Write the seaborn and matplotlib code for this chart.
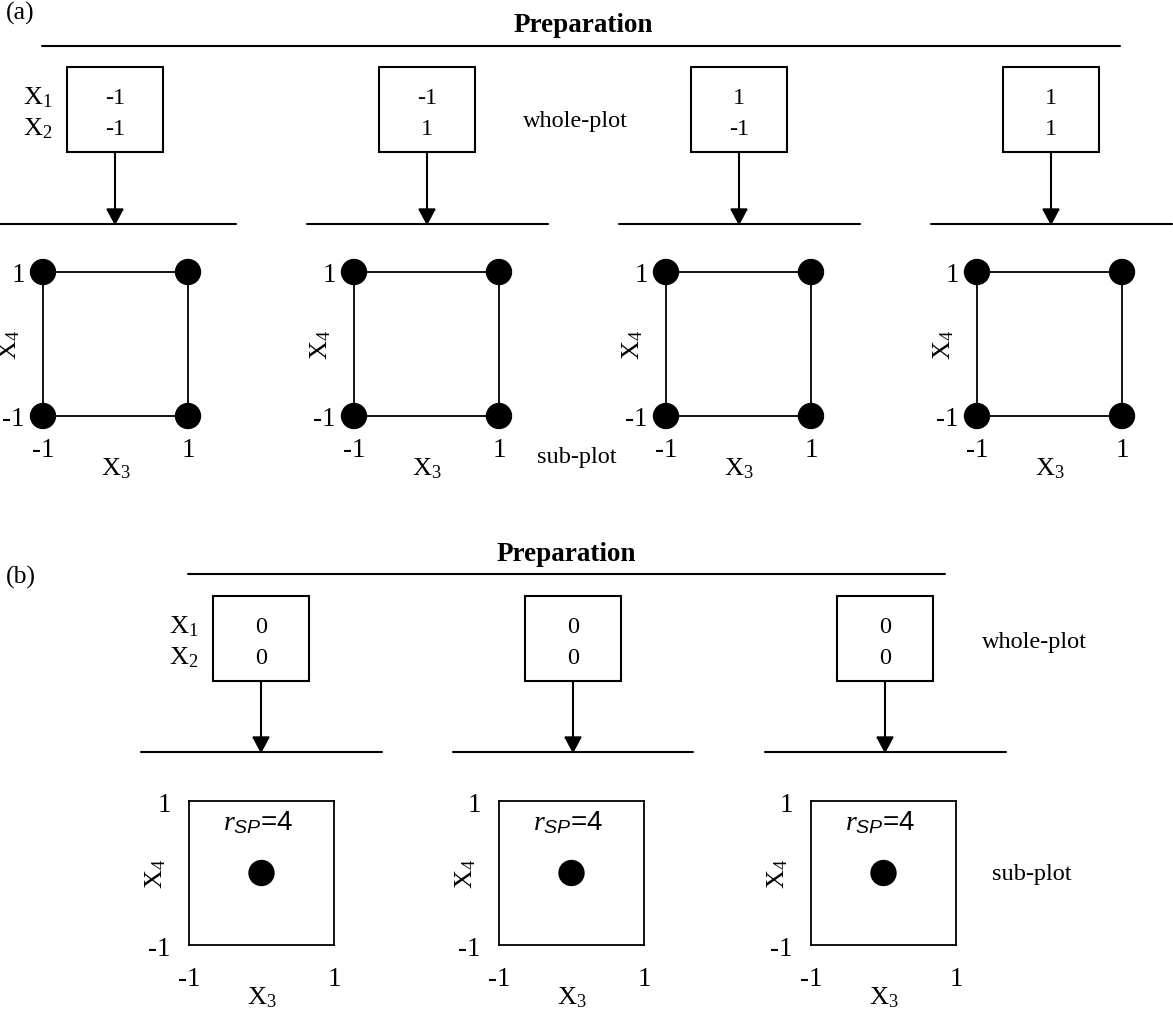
import numpy as np
import pandas as pd
import matplotlib
matplotlib.use("Agg")
import matplotlib.pyplot as plt
import seaborn as sns
from matplotlib.patches import Rectangle, Polygon

# ---------------- data ----------------
# (a) whole-plot factor settings (one box per whole plot)
a_x1 = [-1, -1, 1, 1]
a_x2 = [-1, 1, -1, 1]
# (a) sub-plot design points (2^2 factorial in X3, X4)
a_x3 = [-1, 1, -1, 1]
a_x4 = [-1, -1, 1, 1]
# (b) whole-plot centre points
b_x1 = [0, 0, 0]
b_x2 = [0, 0, 0]
# (b) sub-plot centre point with replicates
b_x3 = [0]
b_x4 = [0]
b_rsp = [4, 4, 4]
tick_vals = [-1, 1]
tick_labels = ["-1", "1"]

# ---------------- layout (pixels) ----------------
W, H = 1173, 1012
SQ_W, SQ_H = 145, 144
A_SQ_LEFT = [43, 354, 666, 977]
A_SQ_TOP = 273
B_SQ_LEFT = [189, 499, 811]
B_SQ_TOP = 802
BOX_W, BOX_H = 96, 85
A_BOX_CX = [115, 427, 739, 1051]
A_BOX_TOP = 68
B_BOX_CX = [261, 573, 885]
B_BOX_TOP = 597
A_LINES = [(0, 236), (307, 548), (619, 860), (931, 1172)]
A_LINE_Y = 225
B_LINES = [(141, 382), (453, 693), (765, 1006)]
B_LINE_Y = 753

FS_TEXT = 17.5
FS_TITLE = 19.5
FS_BOXVAL = 17.5
FS_TICK = 19.5
FS_LAB = 19
FS_RSP = 20
LW = 1.5

sns.set_theme(style="white")
plt.rcParams["font.family"] = ["Liberation Serif", "DejaVu Serif"]
plt.rcParams["mathtext.fontset"] = "custom"
plt.rcParams["mathtext.rm"] = "Liberation Serif"
plt.rcParams["mathtext.it"] = "Liberation Serif:italic"
plt.rcParams["mathtext.sf"] = "Liberation Sans:italic"
plt.rcParams["mathtext.bf"] = "Liberation Serif:bold"
for k in ["text.color", "axes.labelcolor", "xtick.color", "ytick.color", "axes.edgecolor"]:
    plt.rcParams[k] = "black"

fig = plt.figure(figsize=(W / 100, H / 100), dpi=100)
fig.patch.set_facecolor("white")
canvas = fig.add_axes([0, 0, 1, 1])
canvas.set_xlim(0, W)
canvas.set_ylim(H, 0)
canvas.axis("off")


def fmt(v):
    return str(int(v))


def draw_box(cx, top, v1, v2):
    canvas.add_patch(Rectangle((cx - BOX_W / 2, top), BOX_W, BOX_H, fill=False,
                               edgecolor="black", lw=LW))
    canvas.text(cx, top + 36, fmt(v1), ha="center", va="baseline", fontsize=FS_BOXVAL)
    canvas.text(cx, top + 67, fmt(v2), ha="center", va="baseline", fontsize=FS_BOXVAL)


def draw_arrow(cx, y0, y1):
    canvas.plot([cx, cx], [y0, y1 - 14], color="black", lw=LW)
    canvas.add_patch(Polygon([[cx - 8, y1 - 15], [cx + 8, y1 - 15], [cx, y1]],
                             closed=True, color="black"))


def square_axes(left, top):
    ax = fig.add_axes([left / W, 1 - (top + SQ_H) / H, SQ_W / W, SQ_H / H])
    ax.set_facecolor("none")
    return ax


def style_square(ax):
    ax.set_xlim(-1, 1)
    ax.set_ylim(-1, 1)
    ax.set_xticks(tick_vals)
    ax.set_xticklabels(tick_labels)
    ax.set_yticks(tick_vals)
    ax.set_yticklabels(tick_labels)
    ax.tick_params(length=0, labelsize=FS_TICK, colors="black")
    ax.tick_params(axis="x", pad=15)
    ax.tick_params(axis="y", pad=13)
    ax.grid(False)
    for s in ax.spines.values():
        s.set_visible(True)
        s.set_color("black")
        s.set_linewidth(1.3)
    ax.set_xlabel(r"$\mathrm{X}_{3}$", fontsize=FS_LAB, color="black")
    ax.xaxis.set_label_coords(0.5, -52 / SQ_H)
    ax.xaxis.label.set_va("center")
    ax.set_ylabel(r"$\mathrm{X}_{4}$", fontsize=FS_LAB, color="black")
    ax.yaxis.set_label_coords(-33 / SQ_W, 0.5)
    ax.yaxis.label.set_va("center")
    ax.yaxis.label.set_ha("center")


# ================= (a) =================
canvas.text(6, 20, "(a)", ha="left", va="baseline", fontsize=FS_TITLE - 1)
canvas.text(583, 32, "Preparation", ha="center", va="baseline", fontsize=FS_TITLE,
            fontweight="bold")
canvas.plot([42, 1120], [47, 47], color="black", lw=LW)
canvas.text(38, A_BOX_TOP + 36, r"$\mathrm{X}_{1}$", ha="center", va="baseline", fontsize=FS_LAB)
canvas.text(38, A_BOX_TOP + 67, r"$\mathrm{X}_{2}$", ha="center", va="baseline", fontsize=FS_LAB)
canvas.text(523, 127, "whole-plot", ha="left", va="baseline", fontsize=FS_TEXT)
canvas.text(537, 463, "sub-plot", ha="left", va="baseline", fontsize=FS_TEXT)

df_a = pd.DataFrame({"X3": a_x3, "X4": a_x4})
for i, cx in enumerate(A_BOX_CX):
    draw_box(cx, A_BOX_TOP, a_x1[i], a_x2[i])
    draw_arrow(cx, A_BOX_TOP + BOX_H, A_LINE_Y)
    x0, x1 = A_LINES[i]
    canvas.plot([x0, x1], [A_LINE_Y, A_LINE_Y], color="black", lw=LW)
    ax = square_axes(A_SQ_LEFT[i], A_SQ_TOP)
    sns.scatterplot(data=df_a, x="X3", y="X4", ax=ax, color="black", s=360,
                    edgecolor="none", clip_on=False, legend=False, zorder=5)
    style_square(ax)

# ================= (b) =================
canvas.text(6, 584, "(b)", ha="left", va="baseline", fontsize=FS_TITLE - 1)
canvas.text(566, 561, "Preparation", ha="center", va="baseline", fontsize=FS_TITLE,
            fontweight="bold")
canvas.plot([188, 945], [575, 575], color="black", lw=LW)
canvas.text(184, B_BOX_TOP + 36, r"$\mathrm{X}_{1}$", ha="center", va="baseline", fontsize=FS_LAB)
canvas.text(184, B_BOX_TOP + 67, r"$\mathrm{X}_{2}$", ha="center", va="baseline", fontsize=FS_LAB)
canvas.text(982, 648, "whole-plot", ha="left", va="baseline", fontsize=FS_TEXT)
canvas.text(992, 880, "sub-plot", ha="left", va="baseline", fontsize=FS_TEXT)

df_b = pd.DataFrame({"X3": b_x3, "X4": b_x4})
for i, cx in enumerate(B_BOX_CX):
    draw_box(cx, B_BOX_TOP, b_x1[i], b_x2[i])
    draw_arrow(cx, B_BOX_TOP + BOX_H, B_LINE_Y)
    x0, x1 = B_LINES[i]
    canvas.plot([x0, x1], [B_LINE_Y, B_LINE_Y], color="black", lw=LW)
    ax = square_axes(B_SQ_LEFT[i], B_SQ_TOP)
    sns.scatterplot(data=df_b, x="X3", y="X4", ax=ax, color="black", s=360,
                    edgecolor="none", clip_on=False, legend=False, zorder=5)
    ax.text(-0.05, 0.61, r"$\mathit{r}_{\mathsf{SP}}$=" + str(b_rsp[i]), ha="center",
            va="baseline", fontsize=FS_RSP, color="black",
            family=["Liberation Sans", "DejaVu Sans"])
    style_square(ax)

fig.savefig("out.png", dpi=100, facecolor="white")
